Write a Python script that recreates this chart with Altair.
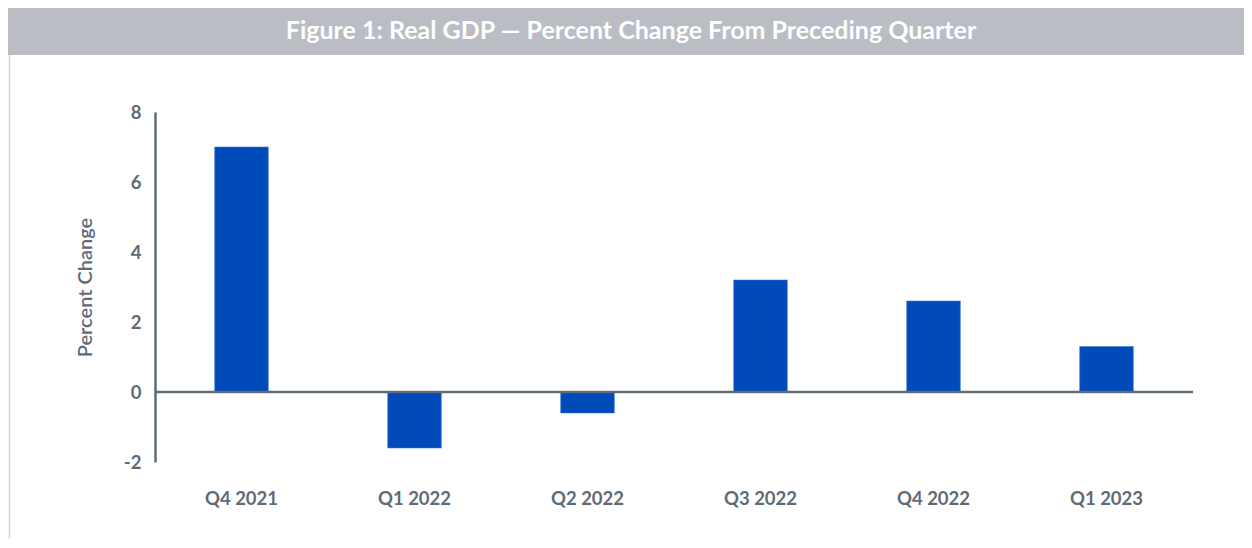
import altair as alt
import pandas as pd

quarters = ["Q4 2021", "Q1 2022", "Q2 2022", "Q3 2022", "Q4 2022", "Q1 2023"]
values = [7.0, -1.6, -0.6, 3.2, 2.6, 1.3]
y_ticks = [-2, 0, 2, 4, 6, 8]
title_text = "Figure 1: Real GDP \u2014 Percent Change From Preceding Quarter"

df = pd.DataFrame({"quarter": quarters, "value": values})

FONT = "Source Sans Pro, Lato, Open Sans, sans-serif"
AXIS_COLOR = "#5f6b75"
W, H = 1038, 350
PL, PT, PR, PB = 147, 104, 51, 76

base = alt.Chart(df)

bars = base.mark_bar(color="#004bb9", stroke="#3f7ad6", strokeWidth=0.6).encode(
    x=alt.X("quarter:N", sort=quarters, title=None,
            scale=alt.Scale(paddingInner=0.69, paddingOuter=0.345),
            axis=alt.Axis(labelAngle=0, domain=False, ticks=False, labelPadding=27,
                          labelFontSize=18.5, labelFontWeight="bold", labelColor=AXIS_COLOR,
                          labelFont=FONT)),
    y=alt.Y("value:Q", title="Percent Change",
            scale=alt.Scale(domain=[-2, 8], nice=False),
            axis=alt.Axis(values=y_ticks, grid=False, ticks=False, domainColor=AXIS_COLOR,
                          domainWidth=2.5, labelPadding=14, labelFontSize=18.5,
                          labelExpr="replace(datum.label, '\u2212', '-')",
                          labelFontWeight="bold", labelColor=AXIS_COLOR, labelFont=FONT,
                          titleFontSize=20, titleFontWeight=600, titleColor=AXIS_COLOR,
                          titleFont=FONT, titlePadding=28)),
)

zero = alt.Chart(pd.DataFrame({"z": [0]})).mark_rule(color=AXIS_COLOR, strokeWidth=2.5).encode(
    y="z:Q", x=alt.value(0), x2=alt.value(W)
)

title_bg = alt.Chart(pd.DataFrame({"t": [title_text]})).mark_rect(color="#babdc4").encode(
    x=alt.value(-PL - 1), x2=alt.value(W + PR), y=alt.value(-PT - 1), y2=alt.value(-57)
)
title_lbl = alt.Chart(pd.DataFrame({"t": [title_text]})).mark_text(
    color="white", fontSize=25, fontWeight="bold", font=FONT, align="center", baseline="middle"
).encode(text="t:N", x=alt.value(476), y=alt.value(-81))

left_border = alt.Chart(pd.DataFrame({"t": [0]})).mark_rule(color="#d3d3d8", strokeWidth=1.5).encode(
    x=alt.value(-PL + 1.5), y=alt.value(-57), y2=alt.value(H + PB)
)

chart = alt.layer(title_bg, title_lbl, left_border, bars, zero).properties(
    width=W, height=H,
    autosize=alt.AutoSizeParams(type="none"),
    padding={"left": PL, "top": PT, "right": PR, "bottom": PB},
).configure_view(stroke=None)

chart.save("out.html", embed_options={"renderer": "svg", "actions": False})
